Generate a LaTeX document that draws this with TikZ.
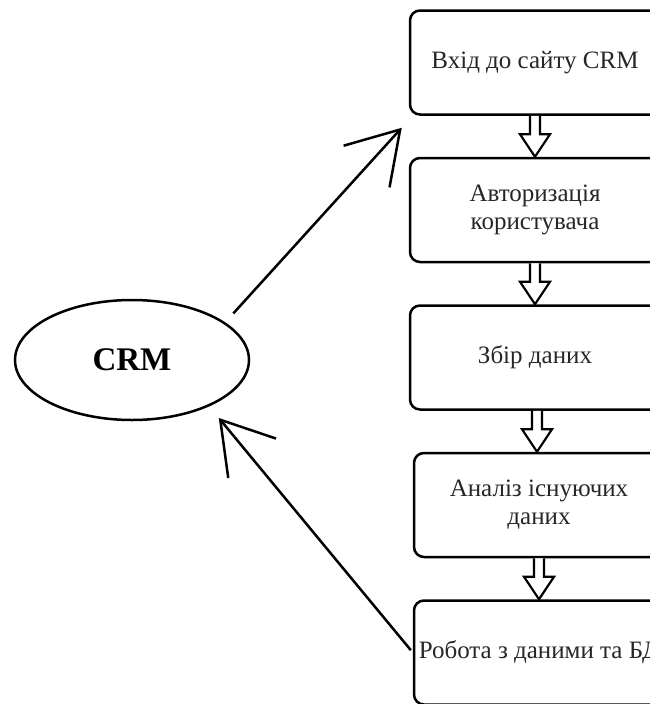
\documentclass[tikz,border=0pt]{standalone}
\usepackage{fontspec}
\setmainfont{Liberation Serif}
\usepackage{tikz}
\usetikzlibrary{shapes.geometric, arrows.meta, positioning, calc}
\tikzstyle{stage} = [rectangle, rounded corners=10pt, minimum width=250pt, minimum height=104pt, text centered, align=center, draw=black, line width=2.5pt, font=\fontsize{25}{28}\selectfont, text=black!85]
\tikzstyle{hub} = [ellipse, minimum width=234pt, minimum height=120pt, draw=black, line width=2.5pt, font=\fontsize{33}{36}\selectfont\bfseries]
\tikzstyle{connector} = [line width=2.5pt, -{Straight Barb[length=50pt, width=62pt]}]
\tikzstyle{blockarrow} = [line width=2.2pt, draw=black, fill=white]
\newcommand{\flowarrow}[2]{%
  \coordinate (mid) at ($(#1.south)!0.5!(#2.north)$);
  \draw [blockarrow] ($(mid |- #1.south)+(-5,0)$) -- ($(mid)+(-5,2)$) -- ($(mid)+(-15,2)$)
    -- (mid |- #2.north) -- ($(mid)+(15,2)$) -- ($(mid)+(5,2)$) -- ($(mid |- #1.south)+(5,0)$);}

\begin{document}
\begin{tikzpicture}[x=1pt, y=1pt]
    \useasboundingbox (0,0) rectangle (650,-704);
    \clip (0,0) rectangle (650,-704);
    \node (crm) [hub] at (132,-360) {CRM};
    \node (enter) [stage] at (535,-62.5) {Вхід до сайту CRM};
    \node (auth) [stage, below=41pt of enter] {Авторизація\\користувача};
    \node (collect) [stage, below=41pt of auth] {Збір даних};
    \node (analyse) [stage, below=41pt of collect, xshift=4pt] {Аналіз існуючих\\даних};
    \node (work) [stage, below=41pt of analyse] {Робота з даними та БД};

    \flowarrow{enter}{auth}
    \flowarrow{auth}{collect}
    \flowarrow{collect}{analyse}
    \flowarrow{analyse}{work}
    % CRM loop
    \draw [connector, shorten <=12pt] (crm.22) -- ($(enter.south west)+(-7,-12)$);
    \draw [connector, shorten <=3pt, shorten >=15pt] (work.west) -- (crm.-31);
\end{tikzpicture}
\end{document}
